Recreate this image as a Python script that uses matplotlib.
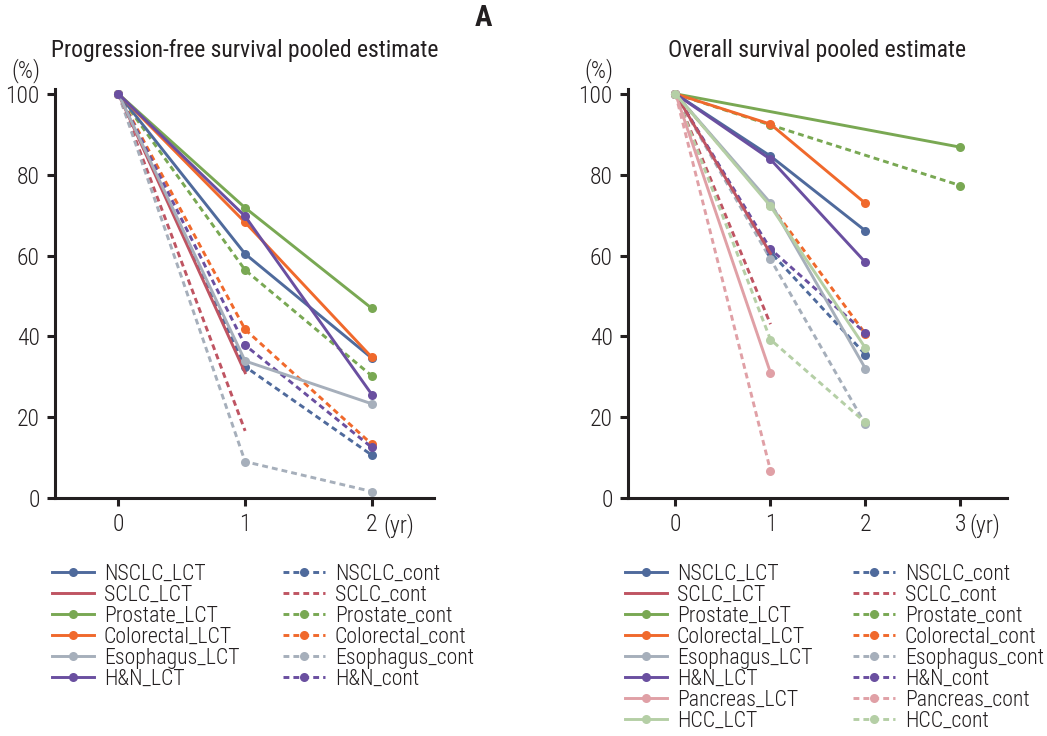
import matplotlib
matplotlib.use("Agg")
import matplotlib.pyplot as plt
from matplotlib.lines import Line2D
from matplotlib import transforms

plt.rcParams['font.family'] = ['Roboto Condensed', 'DejaVu Sans']
plt.rcParams['font.weight'] = 300

# ---------------- data ----------------
groups_pfs = ["NSCLC", "SCLC", "Prostate", "Colorectal", "Esophagus", "H&N"]
groups_os = ["NSCLC", "SCLC", "Prostate", "Colorectal", "Esophagus", "H&N", "Pancreas", "HCC"]

colors = {
    "NSCLC": "#4f6a9c",
    "SCLC": "#bf5462",
    "Prostate": "#79a853",
    "Colorectal": "#f0692c",
    "Esophagus": "#a6afbb",
    "H&N": "#6a4fa0",
    "Pancreas": "#e0a0a6",
    "HCC": "#b5cfa6",
}
no_marker = ["SCLC"]

# PFS (years, %)
pfs_lct_x = {"NSCLC": [0, 1, 2], "SCLC": [0, 1], "Prostate": [0, 1, 2],
             "Colorectal": [0, 1, 2], "Esophagus": [0, 1, 2], "H&N": [0, 1, 2]}
pfs_lct_y = {"NSCLC": [100, 60.4, 34.6], "SCLC": [100, 31.0], "Prostate": [100, 71.8, 46.9],
             "Colorectal": [100, 68.2, 34.8], "Esophagus": [100, 33.9, 23.3], "H&N": [100, 69.7, 25.6]}
pfs_cont_x = {"NSCLC": [0, 1, 2], "SCLC": [0, 1], "Prostate": [0, 1, 2],
              "Colorectal": [0, 1, 2], "Esophagus": [0, 1, 2], "H&N": [0, 1, 2]}
pfs_cont_y = {"NSCLC": [100, 32.5, 10.6], "SCLC": [100, 16.6], "Prostate": [100, 56.4, 30.2],
              "Colorectal": [100, 41.7, 13.3], "Esophagus": [100, 9.0, 1.6], "H&N": [100, 37.8, 12.5]}

# OS (years, %)
os_lct_x = {"NSCLC": [0, 1, 2], "SCLC": [0, 1], "Prostate": [0, 3], "Colorectal": [0, 1, 2],
            "Esophagus": [0, 1, 2], "H&N": [0, 1, 2], "Pancreas": [0, 1], "HCC": [0, 1, 2]}
os_lct_y = {"NSCLC": [100, 84.6, 66.1], "SCLC": [100, 60.5], "Prostate": [100, 86.8],
            "Colorectal": [100, 92.5, 72.9], "Esophagus": [100, 73.0, 32.0], "H&N": [100, 83.8, 58.3],
            "Pancreas": [100, 31.0], "HCC": [100, 72.2, 37.1]}
os_cont_x = {"NSCLC": [0, 1, 2], "SCLC": [0, 1], "Prostate": [0, 1, 3], "Colorectal": [0, 1, 2],
             "Esophagus": [0, 1, 2], "H&N": [0, 1, 2], "Pancreas": [0, 1], "HCC": [0, 1, 2]}
os_cont_y = {"NSCLC": [100, 60.8, 35.5], "SCLC": [100, 43.0], "Prostate": [100, 92.3, 77.3],
             "Colorectal": [100, 72.5, 40.6], "Esophagus": [100, 59.1, 18.2], "H&N": [100, 61.6, 40.8],
             "Pancreas": [100, 6.8], "HCC": [100, 39.2, 18.7]}

yticks = [0, 20, 40, 60, 80, 100]
pfs_xticks = [0, 1, 2]
os_xticks = [0, 1, 2, 3]

TXT = "#231f20"

# ---------------- figure ----------------
fig = plt.figure(figsize=(10.47, 7.36), dpi=100)
axL = fig.add_axes([55 / 1047, 1 - 498 / 736, (434 - 55) / 1047, (498 - 89) / 736])
axR = fig.add_axes([628 / 1047, 1 - 498 / 736, (1007 - 628) / 1047, (498 - 89) / 736])

LW = 2.1
MS = 6.5
DASH = (2.0, 1.4)


def draw(ax, groups, lx, ly, cx, cy):
    for g in groups:
        mk = None if g in no_marker else "o"
        ax.plot(cx[g], cy[g], color=colors[g], lw=LW, ls=(0, DASH), marker=mk, ms=MS,
                markeredgewidth=0, clip_on=False)
    for g in groups:
        mk = None if g in no_marker else "o"
        ax.plot(lx[g], ly[g], color=colors[g], lw=LW, ls="-", marker=mk, ms=MS,
                markeredgewidth=0, clip_on=False)


def style(ax, xticks, xmax, title, yr_offset):
    ax.set_ylim(0, 101.2)
    ax.set_xlim(-0.5, xmax)
    ax.set_yticks(yticks)
    ax.set_xticks(xticks)
    ax.set_xticklabels([str(t) for t in xticks])
    for s in ["top", "right"]:
        ax.spines[s].set_visible(False)
    for s in ["left", "bottom"]:
        ax.spines[s].set_linewidth(2.2)
        ax.spines[s].set_color(TXT)
    ax.tick_params(axis="both", width=2.2, length=6, labelsize=17, color=TXT,
                   labelcolor=TXT)
    ax.tick_params(axis="x", pad=5)
    ax.tick_params(axis="y", pad=5)
    ax.set_title(title, fontsize=17, pad=23, color=TXT)
    tr = transforms.offset_copy(ax.get_xaxis_transform(), fig=fig, x=yr_offset, y=-11,
                                units="points")
    ax.text(xticks[-1], 0, "(yr)", fontsize=17, color=TXT, ha="left", va="top",
            transform=tr, clip_on=False)
    ax.text(-0.077, 1.045, "(%)", transform=ax.transAxes, fontsize=17, color=TXT,
            ha="center", va="center")


draw(axL, groups_pfs, pfs_lct_x, pfs_lct_y, pfs_cont_x, pfs_cont_y)
draw(axR, groups_os, os_lct_x, os_lct_y, os_cont_x, os_cont_y)
style(axL, pfs_xticks, 2.49, "Progression-free survival pooled estimate", 8.0)
style(axR, os_xticks, 3.49, "Overall survival pooled estimate", 6.5)


def legend_col(groups, suffix, ls, anchor):
    handles = []
    labels = []
    for g in groups:
        mk = None if g in no_marker else "o"
        handles.append(Line2D([], [], color=colors[g], lw=LW, ls=ls, marker=mk, ms=MS,
                              markeredgewidth=0))
        labels.append(g + suffix)
    fig.legend(handles, labels, ncol=1, frameon=False, loc="upper left",
               bbox_to_anchor=anchor, fontsize=15.7, handlelength=1.93, handletextpad=0.45,
               labelspacing=0.0, borderaxespad=0, borderpad=0, labelcolor=TXT)


top = 1 - 564 / 736
legend_col(groups_pfs, "_LCT", "-", (52 / 1047, top))
legend_col(groups_pfs, "_cont", (0, DASH), (283 / 1047, top))
legend_col(groups_os, "_LCT", "-", (625 / 1047, top))
legend_col(groups_os, "_cont", (0, DASH), (853 / 1047, top))

fig.text(483 / 1047, 1 - 17.5 / 736, "A", fontsize=21, fontweight="bold", ha="center",
         va="center", color=TXT)

fig.savefig("out.png", dpi=100, facecolor="white")
